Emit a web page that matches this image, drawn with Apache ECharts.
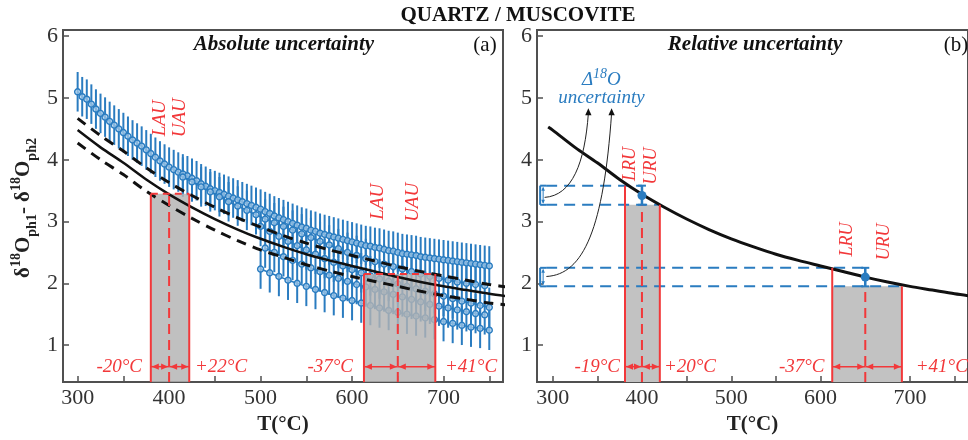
<!DOCTYPE html>
<html><head><meta charset="utf-8">
<script src="https://cdn.jsdelivr.net/npm/echarts@6/dist/echarts.min.js"></script>
<style>html,body{margin:0;padding:0;background:#fff}#c{width:968px;height:440px}</style>
</head><body><div id="c"></div>
<script>
// ---------------- DATA ----------------
const X_TICKS = [300,350,400,450,500,550,600,650,700,750];
const X_LABELS = [300,400,500,600,700];
const Y_TICKS = [1,2,3,4,5,6];

// blue data curves (panel a): start T, step, values
const curveA_T0 = 300, curveA_step = 5;
const curveA = [5.10,5.02,4.98,4.90,4.82,4.75,4.69,4.62,4.56,4.50,
  4.44,4.38,4.32,4.27,4.22,4.16,4.10,4.04,3.98,3.93,
  3.88,3.84,3.80,3.77,3.74,3.70,3.66,3.61,3.57,3.53,
  3.50,3.47,3.44,3.41,3.38,3.35,3.32,3.29,3.26,3.23,
  3.20,3.16,3.13,3.09,3.06,3.03,3.00,2.97,2.94,2.91,
  2.89,2.86,2.84,2.81,2.79,2.77,2.75,2.73,2.71,2.69,
  2.67,2.65,2.63,2.61,2.60,2.58,2.57,2.55,2.53,2.52,
  2.50,2.48,2.47,2.46,2.45,2.43,2.42,2.41,2.40,2.39,
  2.38,2.37,2.36,2.35,2.34,2.33,2.32,2.31,2.30,2.29,2.28];
const curveB_T0 = 415, curveB_step = 10;
const curveB = [3.72,3.64,3.56,3.48,3.40,3.32,3.25,3.18,3.11,3.04,2.98,2.92,2.86,2.80,2.74,2.68,2.62,
  2.56,2.50,2.45,2.40,2.35,2.31,2.27,2.23,2.19,2.15,2.11,2.08,2.05,2.02,2.00,1.98,1.96];
const curveC_T0 = 500, curveC_step = 10;
const curveC = [2.92,2.84,2.76,2.68,2.61,2.54,2.47,2.40,2.34,2.28,2.22,2.17,2.12,2.07,2.03,1.99,
  1.95,1.91,1.87,1.83,1.79,1.75,1.71,1.68,1.64,1.61];
const curveD_T0 = 505, curveD_step = 10;
const curveD = [2.57,2.50,2.43,2.37,2.31,2.25,2.19,2.13,2.08,2.03,1.98,1.94,1.90,1.86,1.82,1.78,
  1.74,1.70,1.66,1.63,1.60,1.57,1.54,1.51,1.49];
const curveE_T0 = 500, curveE_step = 10;
const curveE = [2.23,2.17,2.11,2.05,2.00,1.95,1.90,1.85,1.80,1.76,1.72,1.68,1.64,1.60,1.56,1.53,
  1.50,1.47,1.44,1.41,1.38,1.35,1.32,1.29,1.27,1.24];
const blueErr = 0.32;

// equilibrium curve and its absolute uncertainty envelope
const eqT = [295,300,325,350,375,400,425,450,475,500,525,550,575,600,625,650,675,700,725,750,775];
const eqV = [4.53,4.48,4.20,3.95,3.68,3.44,3.23,3.04,2.87,2.72,2.59,2.47,2.37,2.28,2.19,2.10,2.02,1.95,1.89,1.83,1.78];
const envT = [300,325,350,375,400,425,450,475,500,525,550,575,600,625,650,675,700,725,750,775];
const envUp = [4.67,4.39,4.14,3.87,3.63,3.42,3.23,3.06,2.91,2.77,2.65,2.54,2.45,2.36,2.27,2.19,2.12,2.05,1.98,1.93];
const envLo = [4.27,4.00,3.76,3.49,3.26,3.05,2.86,2.69,2.54,2.42,2.30,2.20,2.11,2.03,1.95,1.87,1.80,1.74,1.68,1.64];

// panel a: absolute uncertainty boxes
const aCenter = [400, 650];
const aLower = [-20, -37];
const aUpper = [22, 41];
const aTop = [3.45, 2.15];

// panel b: relative uncertainty
const bCenter = [400, 650];
const bLower = [-19, -37];
const bUpper = [20, 41];
const bHigh = [3.58, 2.25];
const bLow = [3.27, 1.95];
const bPoint = [3.42, 2.10];

// ---------------- LAYOUT / STYLE ----------------
const BLUE = '#2a7cc0', RED = '#f2383a', BLACK = '#111', AXIS = '#505050', TXT = '#333';
const FONT = '"Liberation Serif","DejaVu Serif",serif';
const Y_MIN = 0.4, Y_MAX = 6.1;
const ARROW_Y = 0.65;
const BRACKET_T = 286;
const aTagPos = [[390,4.67],[412,4.68],[628,3.32],[667,3.31]];
const aTagText = ['LAU','UAU','LAU','UAU'];
const aTempPos = [[370.4,ARROW_Y],[428.3,ARROW_Y],[601,ARROW_Y],[701.6,ARROW_Y]];
const bTagPos = [[387.4,3.93],[410.4,3.90],[630,2.71],[671.5,2.67]];
const bTagText = ['LRU','URU','LRU','URU'];
const bTempPos = [[375.4,ARROW_Y],[424.6,ARROW_Y],[604.4,ARROW_Y],[706.5,ARROW_Y]];
const curvedArrows = [
  {p0:[291,3.39], c1:[322,3.42], c2:[336,3.95], p1:[340,4.80]},
  {p0:[293,2.11], c1:[335,2.14], c2:[357,2.9], p1:[366,4.80]}
];
const deltaTextPos = [[354.6,5.32],[354.6,5.0]];

const tempTexts = (lo, up) => { const r=[]; lo.forEach((l,i)=>{ r.push(l+'°C'); r.push('+'+up[i]+'°C'); }); return r; };
const aTempText = tempTexts(aLower, aUpper);
const bTempText = tempTexts(bLower, bUpper);

function seq(t0, step, vals){ return vals.map((v,i)=>[t0+i*step, v]); }
const blueCurves = [seq(curveA_T0,curveA_step,curveA), seq(curveB_T0,curveB_step,curveB),
  seq(curveC_T0,curveC_step,curveC), seq(curveD_T0,curveD_step,curveD), seq(curveE_T0,curveE_step,curveE)];
const allBlue = [].concat(...blueCurves);

// ---------------- HELPERS ----------------
function head(x, y, dir, size, color){ // dir: 'l','r','u','d'
  const w = size*0.45;
  let pts;
  if (dir==='l') pts=[[x,y],[x+size,y-w],[x+size,y+w]];
  else if (dir==='r') pts=[[x,y],[x-size,y-w],[x-size,y+w]];
  else if (dir==='u') pts=[[x,y],[x-w,y+size],[x+w,y+size]];
  else pts=[[x,y],[x-w,y-size],[x+w,y-size]];
  return {type:'polygon', shape:{points:pts}, style:{fill:color}};
}
function seg(p,q,color,w,dash){
  return {type:'line', shape:{x1:p[0],y1:p[1],x2:q[0],y2:q[1]}, style:{stroke:color,lineWidth:w,lineDash:dash||null}};
}
function bottomArrows(api, c, lo, up){
  const pc = api.coord([c, ARROW_Y]), pl = api.coord([c+lo, ARROW_Y]), pr = api.coord([c+up, ARROW_Y]);
  const s = 7;
  return [
    seg(pl,pc,RED,1.5), seg(pc,pr,RED,1.5),
    head(pl[0]+1,pl[1],'l',s,RED), head(pc[0]-1,pc[1],'r',s,RED),
    head(pc[0]+1,pc[1],'l',s,RED), head(pr[0]-1,pr[1],'r',s,RED)
  ];
}
function textEl(p, text, opt){
  return {type:'text', x:p[0], y:p[1], rotation:opt.rot||0,
    style:{text:text, font:opt.font, fill:opt.fill, align:opt.align||'center', verticalAlign:'middle', rich:opt.rich}};
}

// ---------------- RENDERERS ----------------
function renderErr(params, api){
  const t=api.value(0), v=api.value(1);
  return seg(api.coord([t,v-blueErr]), api.coord([t,v+blueErr]), BLUE, 2);
}
function renderAGray(params, api){
  const i=params.dataIndex, c=aCenter[i];
  const p1=api.coord([c+aLower[i], aTop[i]]), p2=api.coord([c+aUpper[i], Y_MIN]);
  return {type:'rect', shape:{x:p1[0],y:p1[1],width:p2[0]-p1[0],height:p2[1]-p1[1]},
    style:{fill:'rgba(178,178,178,0.82)'}};
}
function renderARed(params, api){
  const i=params.dataIndex, c=aCenter[i], lo=c+aLower[i], up=c+aUpper[i], top=aTop[i];
  const ch=[
    seg(api.coord([lo,Y_MIN]), api.coord([lo,top]), RED, 2),
    seg(api.coord([up,Y_MIN]), api.coord([up,top]), RED, 2),
    seg(api.coord([lo,top]), api.coord([up,top]), RED, 2, [7,5]),
    seg(api.coord([c,Y_MIN]), api.coord([c,top]), RED, 2, [10,6])
  ].concat(bottomArrows(api, c, aLower[i], aUpper[i]));
  return {type:'group', children:ch};
}
function renderATags(params, api){
  const ch=[];
  aTagPos.forEach((p,i)=>ch.push(textEl(api.coord(p), aTagText[i], {font:'italic 19px '+FONT, fill:RED, rot:Math.PI/2})));
  aTempPos.forEach((p,i)=>ch.push(textEl(api.coord(p), aTempText[i], {font:'italic 19px '+FONT, fill:RED, align: i%2===0?'right':'left'})));
  return {type:'group', children:ch};
}
function renderBGray(params, api){
  const i=params.dataIndex, c=bCenter[i];
  const p1=api.coord([c+bLower[i], bLow[i]]), p2=api.coord([c+bUpper[i], Y_MIN]);
  return {type:'rect', shape:{x:p1[0],y:p1[1],width:p2[0]-p1[0],height:p2[1]-p1[1]}, style:{fill:'#c2c2c2'}};
}
function renderBBlueDash(params, api){
  const i=params.dataIndex, c=bCenter[i];
  const ph0=api.coord([BRACKET_T,bHigh[i]]), ph1=api.coord([c,bHigh[i]]);
  const pl0=api.coord([BRACKET_T,bLow[i]]), pl1=api.coord([c+bUpper[i],bLow[i]]);
  const ch=[
    seg([ph0[0]+6,ph0[1]], ph1, BLUE, 2, [11,7]),
    seg([pl0[0]+6,pl0[1]], pl1, BLUE, 2, [11,7]),
    seg(ph0, [ph0[0]+6,ph0[1]], BLUE, 2),
    seg(pl0, [pl0[0]+6,pl0[1]], BLUE, 2),
    seg(ph0, pl0, BLUE, 2),
    seg([ph0[0]+3,ph0[1]+2],[pl0[0]+3,pl0[1]-2], BLUE, 1),
    head(ph0[0]+3,ph0[1]+1,'u',4,BLUE), head(pl0[0]+3,pl0[1]-1,'d',4,BLUE)
  ];
  return {type:'group', children:ch};
}
function renderBRed(params, api){
  const i=params.dataIndex, c=bCenter[i], lo=c+bLower[i], up=c+bUpper[i];
  const ch=[
    seg(api.coord([lo,Y_MIN]), api.coord([lo,bHigh[i]]), RED, 2),
    seg(api.coord([up,Y_MIN]), api.coord([up,bLow[i]]), RED, 2),
    seg(api.coord([c,Y_MIN]), api.coord([c,bLow[i]]), RED, 2, [10,6])
  ].concat(bottomArrows(api, c, bLower[i], bUpper[i]));
  return {type:'group', children:ch};
}
function renderBPoint(params, api){
  const i=params.dataIndex, c=bCenter[i];
  const ph=api.coord([c,bHigh[i]]), pl=api.coord([c,bLow[i]]), pp=api.coord([c,bPoint[i]]);
  return {type:'group', children:[
    seg(ph,pl,BLUE,2.5), seg([ph[0]-4,ph[1]],[ph[0]+4,ph[1]],BLUE,2), seg([pl[0]-4,pl[1]],[pl[0]+4,pl[1]],BLUE,2),
    {type:'circle', shape:{cx:pp[0],cy:pp[1],r:4.5}, style:{fill:BLUE}}
  ]};
}
function renderBArrows(params, api){
  const a=curvedArrows[params.dataIndex];
  const p0=api.coord(a.p0), c1=api.coord(a.c1), c2=api.coord(a.c2), p1=api.coord(a.p1);
  return {type:'group', children:[
    {type:'bezierCurve', shape:{x1:p0[0],y1:p0[1],cpx1:c1[0],cpy1:c1[1],cpx2:c2[0],cpy2:c2[1],x2:p1[0],y2:p1[1]+3},
      style:{stroke:'#222', lineWidth:1, fill:null}},
    head(p1[0],p1[1]-2,'u',7,'#111')
  ]};
}
function renderBTags(params, api){
  const ch=[];
  bTagPos.forEach((p,i)=>ch.push(textEl(api.coord(p), bTagText[i], {font:'italic 18px '+FONT, fill:RED, rot:Math.PI/2})));
  bTempPos.forEach((p,i)=>ch.push(textEl(api.coord(p), bTempText[i], {font:'italic 19px '+FONT, fill:RED, align: i%2===0?'right':'left'})));
  ch.push(textEl(api.coord(deltaTextPos[0]), '{i|Δ}{s|18}{i|O}', {font:'italic 19px '+FONT, fill:BLUE,
    rich:{i:{fontFamily:FONT,fontStyle:'italic',fontSize:19,fill:BLUE,lineHeight:22,verticalAlign:'bottom'},
          s:{fontFamily:FONT,fontStyle:'italic',fontSize:14,fill:BLUE,lineHeight:22,verticalAlign:'top'}}}));
  ch.push(textEl(api.coord(deltaTextPos[1]), 'uncertainty', {font:'italic 19px '+FONT, fill:BLUE}));
  return {type:'group', children:ch};
}

// ---------------- AXES ----------------
function xAx(gi, min, max){
  return {type:'value', gridIndex:gi, min:min, max:max,
    name:'T(°C)', nameLocation:'middle', nameGap:22,
    nameTextStyle:{fontFamily:FONT, fontWeight:'bold', fontSize:21, color:'#222'},
    axisLine:{show:true, lineStyle:{color:AXIS,width:2}},
    axisTick:{show:true, inside:true, length:6, lineStyle:{color:AXIS,width:1.5}, customValues:X_TICKS},
    axisLabel:{customValues:X_LABELS, fontFamily:FONT, fontSize:22, color:TXT, margin:5},
    splitLine:{show:false}};
}
function yAx(gi){
  return {type:'value', gridIndex:gi, min:Y_MIN, max:Y_MAX,
    axisLine:{show:true, lineStyle:{color:AXIS,width:2}},
    axisTick:{show:true, inside:true, length:6, lineStyle:{color:AXIS,width:1.5}, customValues:Y_TICKS},
    axisLabel:{customValues:Y_TICKS, fontFamily:FONT, fontSize:22, color:TXT, margin:5},
    splitLine:{show:false}};
}

const L = {xAxisIndex:0, yAxisIndex:0, animation:false, silent:true};
const R = {xAxisIndex:1, yAxisIndex:1, animation:false, silent:true};
const series = [];
series.push(Object.assign({type:'custom', z:2, renderItem:renderErr, data:allBlue}, L));
blueCurves.forEach(d=>series.push(Object.assign({type:'line', z:3, data:d, symbol:'circle', symbolSize:6,
  lineStyle:{color:BLUE,width:1.5}, itemStyle:{color:'rgba(170,205,235,0.7)', borderColor:BLUE, borderWidth:1.4}}, L)));
series.push(Object.assign({type:'custom', z:4, renderItem:renderAGray, data:aCenter.map((c,i)=>[c,aTop[i]])}, L));
series.push(Object.assign({type:'line', z:5, data:eqT.map((t,i)=>[t,eqV[i]]).filter(p=>p[0]>=300), symbol:'none', smooth:0.3,
  lineStyle:{color:BLACK,width:2.5}, clip:true}, L));
series.push(Object.assign({type:'line', z:5, data:envT.map((t,i)=>[t,envUp[i]]), symbol:'none', smooth:0.3,
  lineStyle:{color:BLACK,width:3,type:[10,7]}, clip:true}, L));
series.push(Object.assign({type:'line', z:5, data:envT.map((t,i)=>[t,envLo[i]]), symbol:'none', smooth:0.3,
  lineStyle:{color:BLACK,width:3,type:[10,7]}, clip:true}, L));
series.push(Object.assign({type:'custom', z:6, renderItem:renderARed, data:aCenter.map((c,i)=>[c,aTop[i]])}, L));
series.push(Object.assign({type:'custom', z:7, renderItem:renderATags, data:[[400,3]]}, L));

series.push(Object.assign({type:'custom', z:2, renderItem:renderBGray, data:bCenter.map((c,i)=>[c,bLow[i]])}, R));
series.push(Object.assign({type:'custom', z:3, renderItem:renderBBlueDash, data:bCenter.map((c,i)=>[c,bHigh[i]])}, R));
series.push(Object.assign({type:'line', z:4, data:eqT.map((t,i)=>[t,eqV[i]]), symbol:'none', smooth:0.3,
  lineStyle:{color:BLACK,width:3}, clip:true}, R));
series.push(Object.assign({type:'custom', z:5, renderItem:renderBRed, data:bCenter.map((c,i)=>[c,bLow[i]])}, R));
series.push(Object.assign({type:'custom', z:6, renderItem:renderBPoint, data:bCenter.map((c,i)=>[c,bPoint[i]])}, R));
series.push(Object.assign({type:'custom', z:6, renderItem:renderBArrows, data:curvedArrows.map(a=>a.p0)}, R));
series.push(Object.assign({type:'custom', z:7, renderItem:renderBTags, data:[[400,3]]}, R));

const chart = echarts.init(document.getElementById('c'), null, {renderer:'canvas'});
chart.setOption({
  animation:false,
  backgroundColor:'#fff',
  grid:[
    {left:63, top:30, width:440, height:357, show:true, borderColor:AXIS, borderWidth:2},
    {left:537, top:30, width:441.4, height:357, show:true, borderColor:AXIS, borderWidth:2}
  ],
  xAxis:[xAx(0,284,765), xAx(1,282.5,765)],
  yAxis:[yAx(0), yAx(1)],
  graphic:[
    {type:'text', x:518, y:16, style:{text:'QUARTZ / MUSCOVITE', font:'bold 21px '+FONT, fill:'#111', align:'center', verticalAlign:'middle'}},
    {type:'text', x:284, y:45, style:{text:'Absolute uncertainty', font:'italic bold 21px '+FONT, fill:'#111', align:'center', verticalAlign:'middle'}},
    {type:'text', x:485, y:45, style:{text:'(a)', font:'21px '+FONT, fill:'#111', align:'center', verticalAlign:'middle'}},
    {type:'text', x:755, y:45, style:{text:'Relative uncertainty', font:'italic bold 21px '+FONT, fill:'#111', align:'center', verticalAlign:'middle'}},
    {type:'text', x:956, y:45, style:{text:'(b)', font:'21px '+FONT, fill:'#111', align:'center', verticalAlign:'middle'}},
    {type:'text', x:24, y:208, rotation:Math.PI/2, style:{
      text:'{b|δ}{s|18}{b|O}{u|ph1}{b|- δ}{s|18}{b|O}{u|ph2}', align:'center', verticalAlign:'middle',
      rich:{
        b:{fontFamily:FONT,fontWeight:'bold',fontSize:21,fill:'#222',lineHeight:30,verticalAlign:'middle'},
        s:{fontFamily:FONT,fontWeight:'bold',fontSize:14,fill:'#222',lineHeight:30,verticalAlign:'top'},
        u:{fontFamily:FONT,fontWeight:'bold',fontSize:14,fill:'#222',lineHeight:30,verticalAlign:'bottom'}
      }}}
  ],
  series:series
});
</script></body></html>
